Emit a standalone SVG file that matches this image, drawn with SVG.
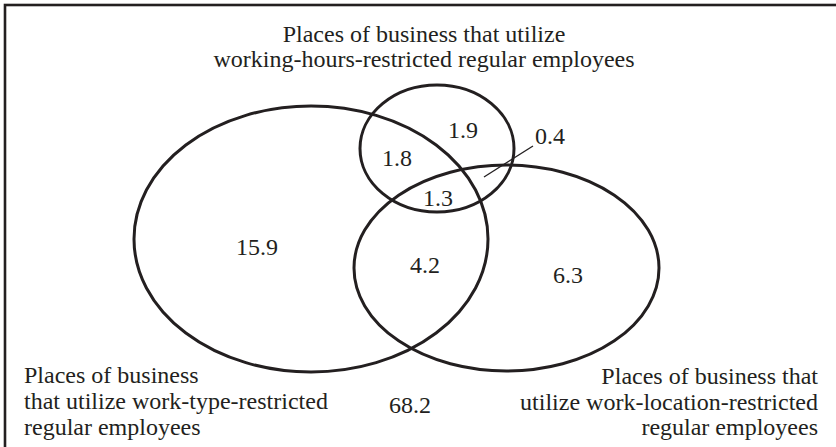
<svg xmlns="http://www.w3.org/2000/svg" width="836" height="447" viewBox="0 0 836 447">
<style>
.set{fill:none;stroke:#231f20;stroke-width:3}
.t{font-family:"Liberation Serif","Times New Roman",serif;font-size:24px;fill:#231f20}
.m{text-anchor:middle}
.e{text-anchor:end}
.lead{stroke:#231f20;stroke-width:1.3;fill:none}
</style>
<rect x="0" y="0" width="836" height="447" fill="#ffffff"/>
<rect x="5" y="5" width="840" height="450" fill="none" stroke="#231f20" stroke-width="2.6"/>
<g id="work-type">
<ellipse class="set" cx="311" cy="239" rx="177" ry="133"/>
<text class="t" x="24" y="383">Places of business</text>
<text class="t" x="24" y="409">that utilize work-type-restricted</text>
<text class="t" x="24" y="435">regular employees</text>
</g>
<g id="working-hours">
<ellipse class="set" cx="437" cy="148.5" rx="77" ry="63.5"/>
<text class="t m" x="424" y="42">Places of business that utilize</text>
<text class="t m" x="424" y="67">working-hours-restricted regular employees</text>
</g>
<g id="work-location">
<ellipse class="set" cx="506.5" cy="268" rx="152.5" ry="103"/>
<text class="t e" x="818" y="384">Places of business that</text>
<text class="t e" x="818" y="410">utilize work-location-restricted</text>
<text class="t e" x="818" y="435">regular employees</text>
</g>
<g id="values">
<text class="t m" x="463" y="138">1.9</text>
<text class="t m" x="397" y="166">1.8</text>
<text class="t m" x="550" y="144">0.4</text>
<text class="t m" x="438" y="206">1.3</text>
<text class="t m" x="257" y="255">15.9</text>
<text class="t m" x="425" y="273">4.2</text>
<text class="t m" x="568" y="283">6.3</text>
<text class="t m" x="410" y="413">68.2</text>
</g>
<g id="connectors">
<line class="lead" x1="484" y1="177" x2="533" y2="146"/>
</g>
</svg>
